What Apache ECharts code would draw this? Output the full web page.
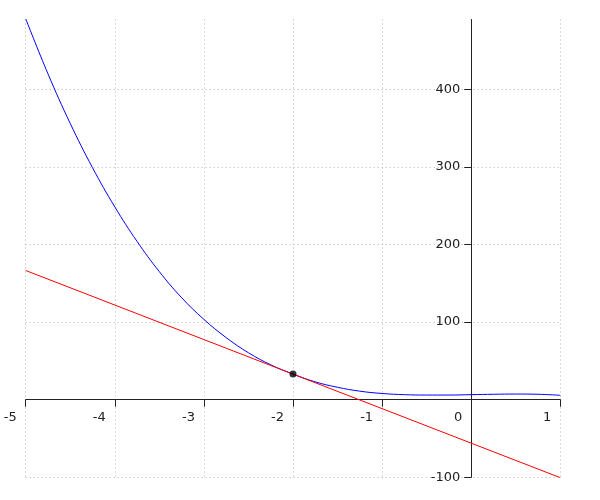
<!DOCTYPE html>
<html>
<head>
<meta charset="utf-8">
<script src="https://cdn.jsdelivr.net/npm/echarts@6/dist/echarts.min.js"></script>
<style>html,body{margin:0;padding:0;background:#fff}#c{width:600px;height:500px}</style>
</head>
<body>
<div id="c"></div>
<script>
// Curve values
var curveX = [-5, -4.75, -4.5, -4.25, -4, -3.75, -3.5, -3.25, -3, -2.75, -2.5, -2.25, -2, -1.75, -1.5, -1.25, -1, -0.75, -0.5, -0.25, 0, 0.25, 0.5, 0.75, 1];
var curveY = [491, 420, 356, 299, 248.5, 204, 165, 131.5, 103.5, 80, 60.5, 45, 33, 23, 16, 11, 8, 6.5, 6, 6, 6.5, 7, 7.3, 7, 5.7];
// Tangent line endpoints
var tangentX = [-5, 1];
var tangentY = [166.5, -100.5];
// Tangent point
var pointX = [-2];
var pointY = [33];
// Axis ticks
var xTicks = [-5, -4, -3, -2, -1, 0, 1];
var yTicks = [-100, 100, 200, 300, 400];
var yMin = -100, yMax = 490;

function zip(a, b) { return a.map(function (v, i) { return [v, b[i]]; }); }

var G = { left: 25.7, top: 19.5, width: 534.6, height: 457.8 };
var ppx = G.width / (xTicks[xTicks.length - 1] - xTicks[0]);
var ppy = G.height / (yMax - yMin);
var xAxisOffset = -(0 - yMin) * ppy;          // move x axis up to y = 0
var yAxisOffset = -(0 - xTicks[0]) * ppx;     // move y axis right to x = 0

var chart = echarts.init(document.getElementById('c'), null, { renderer: 'canvas' });
var axisColor = '#222';
var gridLine = { show: true, lineStyle: { color: '#b4b4b4', type: [1, 3], width: 1 } };
chart.setOption({
  animation: false,
  grid: { left: G.left, top: G.top, width: G.width, height: G.height, containLabel: false, outerBoundsMode: 'none' },
  xAxis: [{
    type: 'value', min: xTicks[0], max: xTicks[xTicks.length - 1], interval: 1,
    position: 'bottom', offset: xAxisOffset,
    axisLine: { onZero: false, lineStyle: { color: axisColor, width: 1 } },
    axisTick: { show: true, length: 7, lineStyle: { color: axisColor } },
    axisLabel: {
      color: axisColor, fontSize: 13, fontFamily: 'DejaVu Sans', margin: 11,
      align: 'right', padding: [0, 9, 0, 0], showMinLabel: true, showMaxLabel: true,
      customValues: xTicks
    },
    splitLine: { show: false }
  }, {
    type: 'value', min: xTicks[0], max: xTicks[xTicks.length - 1], interval: 1,
    position: 'top', axisLine: { show: false }, axisTick: { show: false }, axisLabel: { show: false },
    splitLine: gridLine
  }],
  yAxis: [{
    type: 'value', min: yMin, max: yMax,
    position: 'left', offset: yAxisOffset,
    axisLine: { onZero: false, lineStyle: { color: axisColor, width: 1 } },
    axisTick: { show: true, length: 7, lineStyle: { color: axisColor }, customValues: yTicks },
    axisLabel: { color: axisColor, fontSize: 13, fontFamily: 'DejaVu Sans', margin: 11, customValues: yTicks },
    splitLine: { show: false }
  }, {
    type: 'value', min: yMin, max: yMax, position: 'right',
    axisLine: { show: false }, axisTick: { show: false, customValues: yTicks }, axisLabel: { show: false },
    splitLine: gridLine
  }],
  series: [
    {
      type: 'line', data: zip(curveX, curveY), smooth: 0.4, showSymbol: false,
      lineStyle: { color: '#0000ff', width: 1 }, z: 3
    },
    {
      type: 'line', data: zip(tangentX, tangentY), showSymbol: false,
      lineStyle: { color: '#ff0000', width: 1 }, z: 4
    },
    {
      type: 'scatter', data: zip(pointX, pointY), symbolSize: 7,
      itemStyle: { color: '#000' }, z: 5
    }
  ]
});
</script>
</body>
</html>
